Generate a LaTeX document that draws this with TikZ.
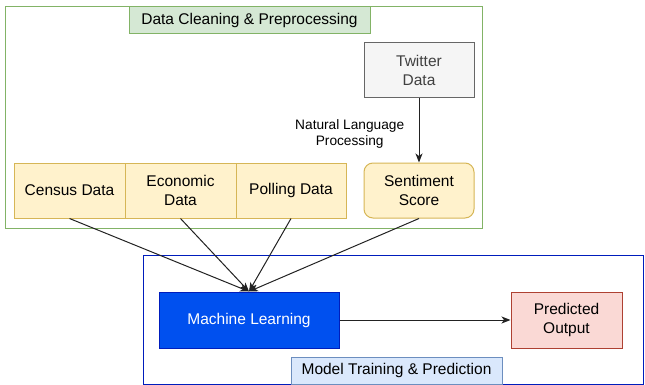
\documentclass[tikz,border=0pt]{standalone}
\usepackage{fontspec}
\setmainfont{Liberation Sans}
\usetikzlibrary{arrows.meta}
\definecolor{gborder}{HTML}{82B366}
\definecolor{gfill}{HTML}{D5E8D4}
\definecolor{yfill}{HTML}{FFF2CC}
\definecolor{yborder}{HTML}{D6B656}
\definecolor{tfill}{HTML}{F5F5F5}
\definecolor{tborder}{HTML}{666666}
\definecolor{mlfill}{HTML}{0050EF}
\definecolor{mlborder}{HTML}{001DBC}
\definecolor{pfill}{HTML}{FAD9D5}
\definecolor{pborder}{HTML}{AE4132}
\definecolor{bfill}{HTML}{DAE8FC}
\definecolor{bborder}{HTML}{6C8EBF}
\definecolor{edgecol}{HTML}{222222}
\tikzset{
  base/.style={rectangle, inner sep=0pt, line width=1pt, align=center,
    font=\fontsize{15.5}{19}\selectfont},
  ybox/.style={base, draw=yborder, fill=yfill, minimum height=55pt},
  gcontainer/.style={base, draw=gborder, fill=white},
  bcontainer/.style={base, draw=mlborder, fill=white},
  edge/.style={draw=edgecol, line width=1pt, -{Stealth[length=9pt,width=7pt,inset=2.5pt]}},
}
\begin{document}
\begin{tikzpicture}[x=1pt,y=-1pt]
\useasboundingbox (0,0) rectangle (645,385);
% containers
\node[gcontainer, minimum width=477pt, minimum height=221pt] (gcont) at (243.5,117.5) {};
\node[base, draw=gborder, fill=gfill, minimum width=241pt, minimum height=27pt] (glabel) at (249.5,20.5) {Data Cleaning \& Preprocessing};
\node[bcontainer, minimum width=500pt, minimum height=129pt] (bcont) at (393,319.5) {};
\node[base, draw=bborder, fill=bfill, minimum width=211pt, minimum height=27pt] (blabel) at (396.5,370.5) {Model Training \& Prediction};
% nodes
\node[base, draw=tborder, fill=tfill, minimum width=110pt, minimum height=55pt, text=black!75] (twitter) at (419,70.5) {Twitter\\Data};
\node[ybox, rounded corners=9pt, minimum width=110pt] (sentiment) at (419,190.5) {Sentiment\\Score};
\node[ybox, minimum width=111pt] (census) at (69.5,190.5) {Census Data};
\node[ybox, minimum width=111pt] (economic) at (180.5,190.5) {Economic\\Data};
\node[ybox, minimum width=110pt] (polling) at (291,190.5) {Polling Data};
\node[base, draw=mlborder, fill=mlfill, text=white, minimum width=180pt, minimum height=56pt] (ml) at (249,320) {Machine Learning};
\node[base, draw=pborder, fill=pfill, minimum width=111pt, minimum height=56pt] (pred) at (566.5,320) {Predicted\\Output};
% edges
\draw[edge] (twitter) -- (sentiment)
  node[pos=0.56, left=11pt, align=center, font=\fontsize{13.7}{16}\selectfont] (nlp) {Natural Language\\Processing};
\draw[edge] (census.south) -- (ml.north);
\draw[edge] (economic.south) -- (ml.north);
\draw[edge] (polling.south) -- (ml.north);
\draw[edge] (sentiment.south) -- (ml.north);
\draw[edge] (ml) -- (pred);
\end{tikzpicture}
\end{document}
